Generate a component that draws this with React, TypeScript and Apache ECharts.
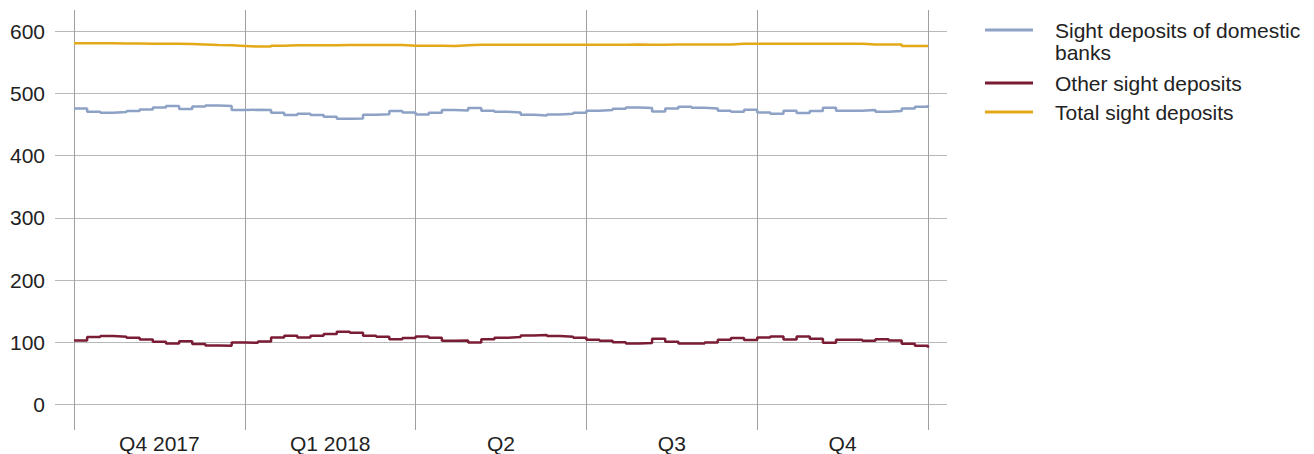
import React, { useEffect, useRef } from "react";
import * as echarts from "echarts";

const quarters = ["Q4 2017", "Q1 2018", "Q2", "Q3", "Q4"];
const yTicks = [0, 100, 200, 300, 400, 500, 600];

const seriesNames = ["Sight deposits of domestic banks", "Other sight deposits", "Total sight deposits"];

// weekly values (week 0 .. 64) plus closing point
const domestic = [
  475.6, 470.2, 468.6, 469.7, 471.3, 474.0, 477.2, 479.4, 474.5, 478.8, 480.5, 479.4, 472.9,
  473.4, 472.9, 468.6, 464.9, 467.0, 464.9, 462.2, 459.0, 459.5, 465.4, 466.4, 471.3, 469.0,
  465.9, 468.6, 472.9, 472.4, 476.2, 471.8, 470.2, 469.1, 465.4, 464.3, 465.9, 467.0, 468.6,
  471.8, 472.9, 475.1, 477.2, 476.2, 470.7, 475.6, 478.3, 476.7, 475.6, 471.8, 470.2, 473.4,
  469.1, 467.0, 471.8, 468.1, 471.3, 476.7, 471.8, 471.8, 472.9, 470.2, 471.3, 475.6, 478.3,
  481.0,
];
const other = [
  102.9, 108.3, 109.9, 108.8, 107.2, 104.5, 100.7, 98.1, 101.8, 97.0, 94.9, 94.3, 99.7,
  99.2, 101.3, 107.7, 110.4, 107.7, 110.4, 113.1, 116.8, 115.2, 110.4, 108.8, 105.0, 107.0,
  109.4, 107.2, 102.4, 102.9, 99.7, 105.0, 107.2, 108.3, 111.0, 111.5, 109.9, 108.8, 107.2,
  104.0, 102.4, 100.2, 98.1, 98.6, 105.6, 100.7, 98.1, 98.1, 99.7, 104.0, 106.7, 103.5,
  107.7, 109.4, 104.5, 109.4, 105.6, 99.2, 104.0, 104.0, 102.4, 105.0, 102.9, 97.6, 94.3,
  91.0,
];
const total = [
  580.5, 580.5, 580.5, 580.0, 580.0, 579.5, 579.5, 579.5, 579.0, 578.5, 577.5, 577.0, 576.0,
  575.0, 575.0, 576.5, 577.0, 577.0, 577.0, 577.0, 577.5, 577.5, 577.5, 577.5, 577.5, 576.5,
  576.5, 576.5, 576.0, 577.0, 578.0, 578.0, 578.0, 578.0, 578.0, 578.0, 578.0, 578.0, 578.0,
  578.0, 578.0, 578.0, 578.5, 578.0, 578.0, 578.5, 578.5, 578.5, 578.5, 578.5, 579.5, 579.5,
  579.5, 579.5, 579.5, 579.5, 579.5, 579.5, 579.5, 579.5, 578.5, 578.5, 578.5, 576.0, 576.0,
  575.0,
];

const colors = ["#8DA2C5", "#7A1C34", "#E4A919"];
const FONT = "'Liberation Sans', Arial, sans-serif";
const TEXT = "#222222";

function toPairs(vals: number[]) {
  return vals.map((v, i) => [i, v]);
}

export default function App() {
  const ref = useRef<HTMLDivElement>(null);
  useEffect(() => {
    document.body.style.margin = "0";
    const chart = echarts.init(ref.current!, null, { renderer: "svg" });
    const weeks = domestic.length - 1;
    const option: any = {
      animation: false,
      textStyle: { fontFamily: FONT },
      grid: [
        { left: 74, right: 367, top: 31, bottom: 49.5 },
        { left: 74, right: 386, top: 10, bottom: 24 },
      ],
      xAxis: [
        { gridIndex: 0, type: "value", min: 0, max: (weeks * 873) / 854, show: false },
        {
          gridIndex: 1,
          type: "category",
          data: quarters,
          boundaryGap: true,
          axisLine: { show: false },
          axisTick: { show: false },
          splitLine: { show: true, interval: 0, lineStyle: { color: "#a0a0a0", width: 1 } },
          axisLabel: { interval: 0, fontSize: 21, color: TEXT, margin: 3, fontFamily: FONT },
        },
      ],
      yAxis: [
        {
          gridIndex: 0,
          type: "value",
          min: yTicks[0],
          max: yTicks[yTicks.length - 1],
          interval: 100,
          axisLine: { show: false },
          axisTick: { show: true, length: 19, lineStyle: { color: "#b8b8b8" } },
          splitLine: { show: true, lineStyle: { color: "#b8b8b8", width: 1 } },
          axisLabel: { fontSize: 21, color: TEXT, margin: 29, fontFamily: FONT },
        },
        { gridIndex: 1, type: "value", show: false },
      ],
      legend: [
        {
          orient: "vertical",
          left: 985,
          top: -3,
          padding: 0,
          icon: "rect",
          itemWidth: 48,
          itemHeight: 3,
          selectedMode: false,
          data: [seriesNames[0]],
          formatter: () => "\nSight deposits of domestic\nbanks",
          textStyle: { fontSize: 21, color: TEXT, lineHeight: 22, padding: [0, 0, 0, 17], fontFamily: FONT },
        },
        {
          orient: "vertical",
          left: 985,
          top: 72,
          padding: 0,
          icon: "rect",
          itemWidth: 48,
          itemHeight: 3,
          itemGap: 7,
          selectedMode: false,
          data: [seriesNames[1], seriesNames[2]],
          textStyle: { fontSize: 21, color: TEXT, lineHeight: 22, padding: [0, 0, 0, 17], fontFamily: FONT },
        },
      ],
      series: [domestic, other, total].map((vals, idx) => ({
        name: seriesNames[idx],
        type: "line",
        xAxisIndex: 0,
        yAxisIndex: 0,
        step: "end",
        showSymbol: false,
        symbol: "none",
        data: toPairs(vals),
        itemStyle: { color: colors[idx] },
        lineStyle: { color: colors[idx], width: 2.5 },
        z: 3,
      })),
    };
    chart.setOption(option);
    return () => chart.dispose();
  }, []);
  return <div ref={ref} style={{ width: 1314, height: 454 }} />;
}
